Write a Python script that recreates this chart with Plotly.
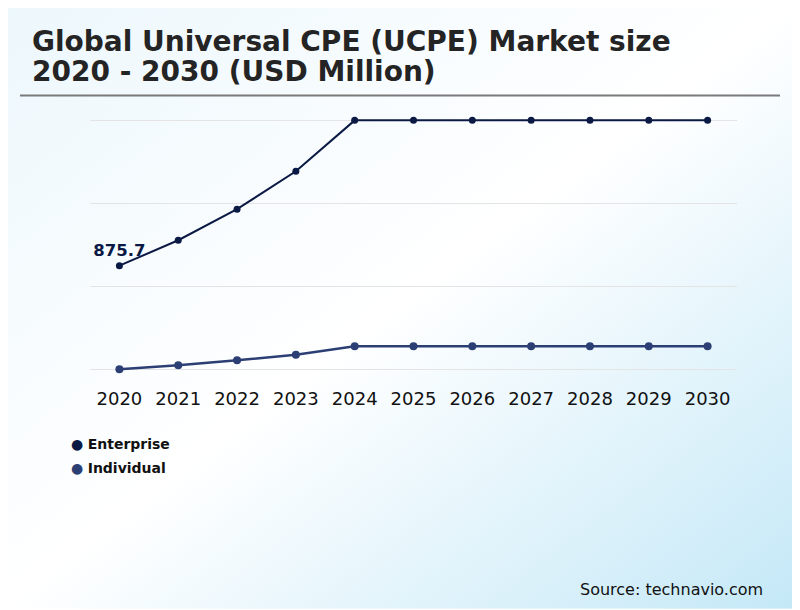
import base64
import plotly.graph_objects as go

years = ["2020", "2021", "2022", "2023", "2024", "2025", "2026", "2027", "2028", "2029", "2030"]
enterprise = [875.7, 1090, 1352, 1671, 2100, 2100, 2100, 2100, 2100, 2100, 2100]
individual = [3, 36, 78, 126, 196, 196, 196, 196, 196, 196, 196]
series_names = ["Enterprise", "Individual"]
series_colors = ["#0b1a44", "#2c3f74"]
grid_vals = [0, 700, 1400, 2100]

OFF = 8  # page body margin
W, H = 800, 610
L, R, T, B = 90 - OFF, 63 + OFF, 117.6 - OFF, 237.6 + OFF
PW, PH = W - L - R, H - T - B


def px_x(px):
    return (px - OFF - L) / PW


def px_y(py):
    return (H - B - (py - OFF)) / PH


svg = (
    "<svg xmlns='http://www.w3.org/2000/svg' width='800' height='610' preserveAspectRatio='none'>"
    "<defs><linearGradient id='g' x1='0' y1='0' x2='1' y2='1'>"
    "<stop offset='0' stop-color='#ecf7fc'/>"
    "<stop offset='0.5' stop-color='#ffffff'/>"
    "<stop offset='1' stop-color='#c4e8f7'/>"
    "</linearGradient></defs>"
    "<rect width='800' height='610' fill='url(#g)'/></svg>"
)
src = "data:image/svg+xml;base64," + base64.b64encode(svg.encode()).decode()

fig = go.Figure()

fig.add_trace(go.Scatter(
    x=years, y=enterprise, name=series_names[0], mode="lines+markers+text",
    line=dict(color=series_colors[0], width=2),
    marker=dict(color=series_colors[0], size=7),
    text=[f"{enterprise[0]}"] + [""] * (len(years) - 1),
    textposition="top center",
    textfont=dict(family="DejaVu Sans", size=16.5, color=series_colors[0], weight="bold"),
    cliponaxis=False, showlegend=False,
))
fig.add_trace(go.Scatter(
    x=years, y=individual, name=series_names[1], mode="lines+markers",
    line=dict(color=series_colors[1], width=2.5),
    marker=dict(color=series_colors[1], size=8),
    cliponaxis=False, showlegend=False,
))

annotations = [
    dict(text="<b>Global Universal CPE (UCPE) Market size</b>", x=px_x(30), y=px_y(52), xref="paper", yref="paper",
         xanchor="left", yanchor="bottom", showarrow=False, yshift=-7,
         font=dict(family="DejaVu Sans", size=28, color="#242424")),
    dict(text="<b>2020 - 2030 (USD Million)</b>", x=px_x(30), y=px_y(82), xref="paper", yref="paper",
         xanchor="left", yanchor="bottom", showarrow=False, yshift=-7,
         font=dict(family="DejaVu Sans", size=28, color="#242424")),
    dict(text="Source: technavio.com", x=px_x(765), y=px_y(591), xref="paper", yref="paper",
         xanchor="right", yanchor="middle", showarrow=False,
         font=dict(family="DejaVu Sans", size=16, color="#111111")),
]
for i, (nm, col) in enumerate(zip(series_names, series_colors)):
    yy = 445 + 24 * i
    annotations.append(dict(
        text=f"<span style='color:{col}'>●</span> <b>{nm}</b>", x=px_x(69), y=px_y(yy),
        xref="paper", yref="paper", xanchor="left", yanchor="middle", showarrow=False,
        font=dict(family="DejaVu Sans", size=14, color="#111111")))

fig.update_layout(
    width=W, height=H,
    margin=dict(l=L, r=R, t=T, b=B, pad=0),
    paper_bgcolor="#ffffff", plot_bgcolor="rgba(0,0,0,0)",
    showlegend=False,
    images=[dict(source=src, xref="paper", yref="paper", x=px_x(0), y=px_y(0),
                 sizex=W / PW, sizey=H / PH, sizing="stretch", xanchor="left", yanchor="top",
                 layer="below")],
    shapes=[dict(type="line", xref="paper", yref="paper", x0=px_x(20), x1=px_x(780),
                 y0=px_y(95), y1=px_y(95), line=dict(color="#7a7a7a", width=2))],
    annotations=annotations,
    xaxis=dict(type="category", range=[-0.5, len(years) - 0.5], showgrid=False, zeroline=False,
               showline=False, ticks="",
               tickfont=dict(family="DejaVu Sans", size=18, color="#111111"), ticklabelstandoff=14),
    yaxis=dict(range=[-20, 2120], tickvals=grid_vals, showticklabels=False, showgrid=True,
               gridcolor="#e4e4e4", gridwidth=1, zeroline=False, showline=False),
)

fig.write_html("out.html")
